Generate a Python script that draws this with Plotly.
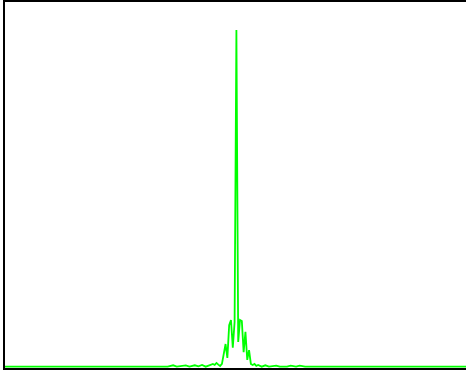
import plotly.graph_objects as go

# Frequency bin index (0..255) and normalised spectrum amplitude (peak = 1)
freq_bin = [0, 20, 40, 60, 80, 90, 93, 95, 100, 102, 105, 107, 109, 111, 113,
            115, 116, 117, 118, 119, 120, 121, 122, 123, 124, 125, 126, 127,
            128, 129, 130, 131, 132, 133, 134, 135, 136, 137, 138, 139, 140,
            142, 144, 146, 150, 152, 156, 158, 161, 163, 166, 180, 210, 255]
amplitude = [0.004, 0.004, 0.004, 0.004, 0.004, 0.004, 0.008, 0.004, 0.008, 0.004,
             0.008, 0.005, 0.009, 0.004, 0.008,
             0.012, 0.009, 0.015, 0.010, 0.006, 0.012, 0.038, 0.071, 0.030,
             0.127, 0.142, 0.060, 0.136,
             1.000, 0.077, 0.142, 0.139, 0.047, 0.107, 0.024, 0.053, 0.012,
             0.009, 0.012, 0.006, 0.009,
             0.004, 0.008, 0.004, 0.007, 0.004, 0.004, 0.007, 0.004, 0.007,
             0.004, 0.004, 0.004, 0.004]

fig = go.Figure()
fig.add_trace(go.Scatter(x=freq_bin, y=amplitude, mode="lines",
                         line=dict(color="#00ff00", width=1.8),
                         showlegend=False, hoverinfo="skip"))

axis_style = dict(showline=True, linecolor="#000000", linewidth=2,
                  showgrid=False, zeroline=False, showticklabels=False, ticks="")
fig.update_xaxes(range=[0, 255], mirror=True, **axis_style)
fig.update_yaxes(range=[0, 1.083], mirror=False, **axis_style)
fig.update_layout(width=466, height=371,
                  margin=dict(l=5, r=0, t=2, b=3),
                  paper_bgcolor="white", plot_bgcolor="white")
fig.write_html("out.html")
